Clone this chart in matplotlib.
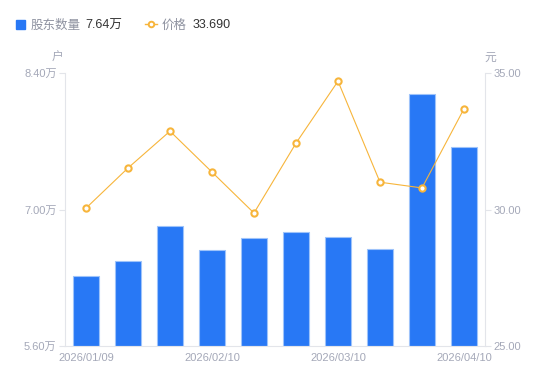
import matplotlib
matplotlib.use("Agg")
import matplotlib.pyplot as plt
from matplotlib.lines import Line2D
from matplotlib.patches import Rectangle

plt.rcParams['font.family'] = ['Liberation Sans', 'Noto Sans CJK SC', 'DejaVu Sans']

dates = ['2026/01/09', '2026/01/20', '2026/01/31', '2026/02/10', '2026/02/20',
         '2026/02/28', '2026/03/10', '2026/03/20', '2026/03/31', '2026/04/10']
holders = [6.32, 6.47, 6.83, 6.58, 6.71, 6.77, 6.72, 6.60, 8.18, 7.64]   # 万户
price = [30.05, 31.52, 32.87, 31.37, 29.87, 32.43, 34.70, 31.00, 30.79, 33.69]
left_ticks = [5.60, 7.00, 8.40]
right_ticks = [25.00, 30.00, 35.00]

BLUE = '#2878F5'
ORANGE = '#F7B53B'
GRID = '#E3E5EA'
TICK = '#A4A8B8'

fig = plt.figure(figsize=(5.5, 3.81), dpi=100)
ax = fig.add_axes([65 / 550, 35 / 381, 420 / 550, 273 / 381])
ax2 = ax.twinx()

x = list(range(len(dates)))
ax.bar(x, [h - left_ticks[0] for h in holders], bottom=left_ticks[0], width=0.6,
       color=BLUE, edgecolor='#9EC3FA', linewidth=0.8, zorder=2)
ax.set_xlim(-0.5, len(dates) - 0.5)
ax.set_ylim(left_ticks[0], left_ticks[-1])
ax.set_yticks(left_ticks)
ax.set_yticklabels([f'{v:.2f}万' for v in left_ticks])

ax2.plot(x, price, color=ORANGE, linewidth=0.8, marker='o', markersize=4.5,
         markerfacecolor='white', markeredgecolor=ORANGE, markeredgewidth=1.5, zorder=3)
ax2.set_ylim(right_ticks[0], right_ticks[-1])
ax2.set_yticks(right_ticks)
ax2.set_yticklabels([f'{v:.2f}' for v in right_ticks])

shown = [0, 3, 6, 9]
ax.set_xticks(shown)
ax.set_xticklabels([dates[i] for i in shown])

for a in (ax, ax2):
    for s in a.spines.values():
        s.set_visible(False)
    a.tick_params(labelsize=8, colors=TICK, length=4, width=0.8, color=GRID, pad=2)
ax.spines['left'].set_visible(True)
ax.spines['left'].set_color(GRID)
ax2.spines['right'].set_visible(True)
ax2.spines['right'].set_color(GRID)
ax.spines['bottom'].set_visible(True)
ax.spines['bottom'].set_color(GRID)
ax.tick_params(axis='x', length=0, pad=5)
ax.set_zorder(1)
ax2.set_zorder(2)
ax.patch.set_visible(False)

fig.text(58 / 550, 1 - 58 / 381, '户', fontsize=8.5, color=TICK, ha='center', va='center')
fig.text(490 / 550, 1 - 58 / 381, '元', fontsize=8.5, color=TICK, ha='center', va='center')

# legend
ly = 1 - 25.5 / 381
fig.patches.append(Rectangle((16 / 550, 1 - 29 / 381), 9 / 550, 9 / 381,
                             transform=fig.transFigure, color=BLUE))
fig.text(31 / 550, ly, '股东数量', fontsize=9, color='#8E92A0', va='center')
fig.text(85 / 550, ly, f'{holders[-1]:.2f}万', fontsize=9, color='#333333', va='center')
fig.lines.append(Line2D([145 / 550, 157 / 550], [1 - 24 / 381] * 2, transform=fig.transFigure,
                        color=ORANGE, linewidth=1))
fig.lines.append(Line2D([151 / 550], [1 - 24 / 381], transform=fig.transFigure, color=ORANGE,
                        marker='o', markersize=4, markerfacecolor='white', markeredgewidth=1.4))
fig.text(162 / 550, ly, '价格', fontsize=9, color='#8E92A0', va='center')
fig.text(193 / 550, ly, f'{price[-1]:.3f}', fontsize=9, color='#333333', va='center')

fig.savefig('out.png', dpi=100)
